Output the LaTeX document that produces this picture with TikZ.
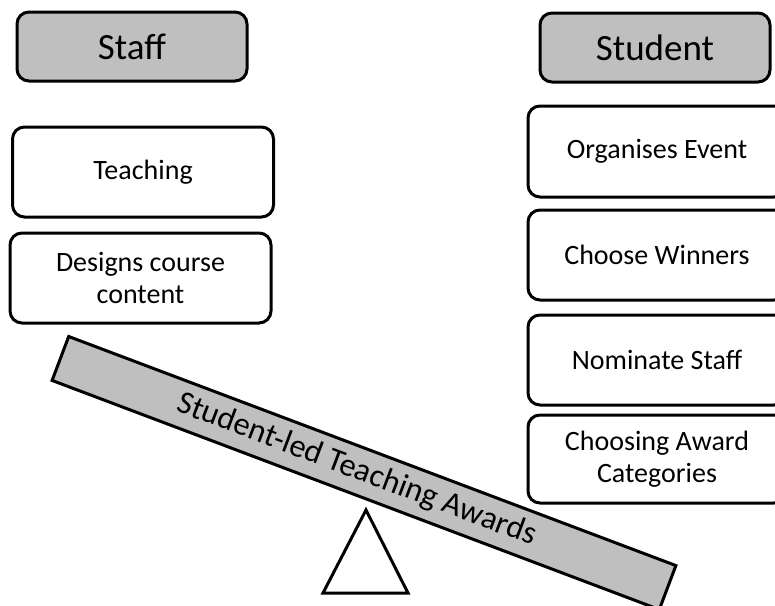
\documentclass[tikz,border=0pt]{standalone}
\usepackage{fontspec}
\setmainfont{Carlito}
\definecolor{boxgray}{HTML}{BFBFBF}
\tikzset{
  base/.style={draw=black, line width=3pt, rounded corners=12pt, align=center, inner sep=0pt},
  header/.style={base, fill=boxgray, minimum width=230pt, minimum height=69pt, font=\fontsize{37}{42}\selectfont},
  item/.style={base, fill=white, minimum width=260pt, minimum height=90pt, font=\fontsize{28}{32}\selectfont},
  plank/.style={draw=black, line width=3pt, fill=boxgray, minimum width=649pt, minimum height=47pt, inner sep=0pt, font=\fontsize{32.5}{36}\selectfont},
  fulcrum/.style={draw=black, line width=3pt, fill=white, line join=miter}
}
\begin{document}
\begin{tikzpicture}[x=1pt, y=-1pt]
\clip (0,0) rectangle (775,605);
\fill[white] (0,0) rectangle (775,605);
\node[header] (staff) at (132,46.5) {Staff};
\node[header] (student) at (655,47.5) {Student};
\node[item, minimum width=261pt] (teach) at (143,172) {Teaching};
\node[item, minimum width=261pt] (design) at (140.5,278) {Designs course\\content};
\node[item, minimum width=258pt, minimum height=91pt] (org) at (657,151.5) {Organises Event};
\node[item, minimum width=258pt] (win) at (657,255) {Choose Winners};
\node[item, minimum width=258pt] (nom) at (657,360) {Nominate Staff};
\node[item, minimum width=258pt, minimum height=88pt] (cat) at (657,459) {Choosing Award\\Categories};
\node[plank, rotate=-20.67] (bar) at (364,473) {Student-led Teaching Awards\hspace*{16pt}};
\coordinate (apex) at (366,510);
\coordinate (bright) at (408,593);
\coordinate (bleft) at (323,593);
\draw[fulcrum] (apex) -- (bright) -- (bleft) -- cycle;
\end{tikzpicture}
\end{document}
